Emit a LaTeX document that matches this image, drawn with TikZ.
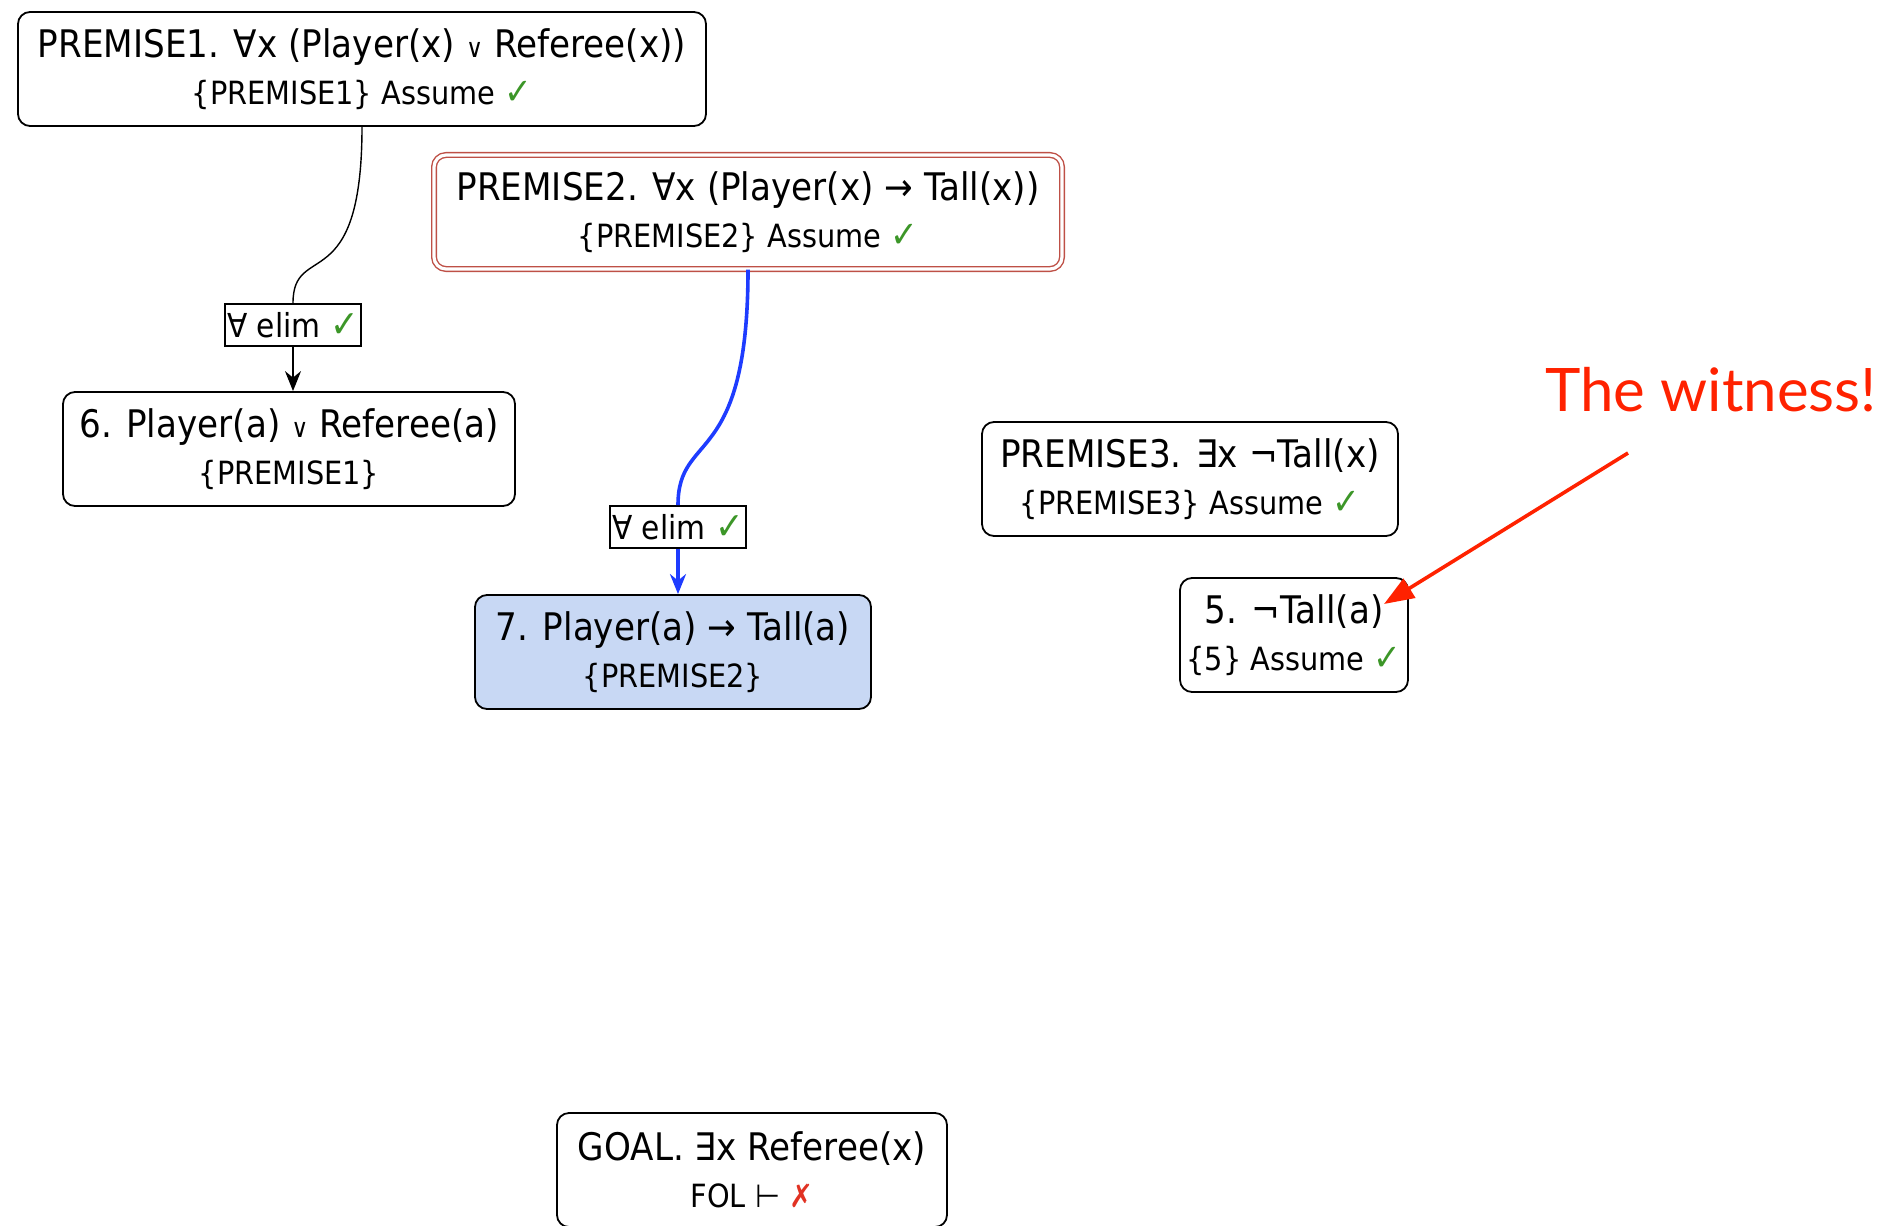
\documentclass[tikz,border=0pt]{standalone}
\usepackage{fontspec}
\setmainfont[FakeStretch=0.9]{DejaVu Sans}
\newfontfamily\notefont{Lato}
\usetikzlibrary{arrows.meta,positioning,shapes}

\definecolor{okgreen}{RGB}{60,150,40}
\definecolor{badred}{RGB}{225,50,35}
\definecolor{boxred}{RGB}{190,80,70}
\definecolor{selblue}{RGB}{200,216,244}
\definecolor{linkblue}{RGB}{30,60,255}
\definecolor{notered}{RGB}{255,34,0}

\newcommand{\ok}{{\color{okgreen}\scalebox{1.15}{✓}}}
\newcommand{\notok}{{\color{badred}✗}}
\newcommand{\orsym}{{\fontsize{13}{16}\selectfont ∨}}
\newcommand{\subline}[1]{{\fontsize{16}{19}\selectfont #1}}

\tikzset{
  stepnode/.style={draw, rounded corners=6pt, line width=0.9pt, align=center,
    inner sep=0pt, minimum height=57pt, font=\fontsize{19}{23.5}\selectfont},
  rulebox/.style={draw, line width=0.9pt, inner sep=0pt, minimum width=68pt,
    minimum height=21pt, font=\fontsize{16.5}{18}\selectfont},
}

\begin{document}
\begin{tikzpicture}[x=0.5pt, y=-0.5pt]
  \useasboundingbox (0,0) rectangle (1899,1225);

  \node[stepnode, minimum width=344pt] (prem1) at (362, 69)
    {PREMISE1. ∀x (Player(x) \orsym{} Referee(x))\\ \subline{\{PREMISE1\} Assume \ok}};
  \node[stepnode, minimum width=314pt, draw=boxred, double, double distance=1.6pt, line width=0.7pt] (prem2) at (748, 212)
    {PREMISE2. ∀x (Player(x) → Tall(x))\\ \subline{\{PREMISE2\} Assume \ok}};
  \node[rulebox] (elimA) at (293, 325) {∀ elim \ok};
  \node[stepnode, minimum width=226pt] (step6) at (289, 449)
    {6. Player(a) \orsym{} Referee(a)\\ \subline{\{PREMISE1\}}};
  \node[rulebox] (elimB) at (678, 527) {∀ elim \ok};
  \node[stepnode, minimum width=198pt, fill=selblue] (step7) at (673, 652)
    {7. Player(a) → Tall(a)\\ \subline{\{PREMISE2\}}};
  \node[stepnode, minimum width=208pt] (prem3) at (1190, 479)
    {PREMISE3. ∃x ¬Tall(x)\\ \subline{\{PREMISE3\} Assume \ok}};
  \node[stepnode, minimum width=114pt] (step5) at (1294, 635)
    {5. ¬Tall(a)\\ \subline{\{5\} Assume \ok}};
  \node[stepnode, minimum width=195pt] (goal) at (752, 1170)
    {GOAL. ∃x Referee(x)\\ \subline{FOL ⊢ \notok}};

  \node[text=notered, font=\notefont\fontsize{30}{34}\selectfont] (witness) at (1711, 390) {The witness!};
  \coordinate (witnessTail) at (1628, 453);
  \coordinate (witnessTip) at (1384, 604);

  % links
  \draw[line width=0.7pt] (prem1.south) .. controls (362, 300) and (293, 240) .. (elimA.north);
  \draw[->, >={Stealth[length=10pt,width=8pt]}, line width=0.7pt] (elimA.south) -- (step6.north -| elimA);
  \draw[linkblue, line width=1.8pt] (prem2.south) .. controls (748, 470) and (678, 430) .. (elimB.north);
  \draw[->, >={Stealth[length=10pt,width=8pt]}, linkblue, line width=1.8pt] (elimB.south) -- (step7.north -| elimB);
  \draw[->, >={Triangle[length=15pt,width=11pt]}, notered, line width=1.8pt] (witnessTail) -- (witnessTip);
\end{tikzpicture}
\end{document}
